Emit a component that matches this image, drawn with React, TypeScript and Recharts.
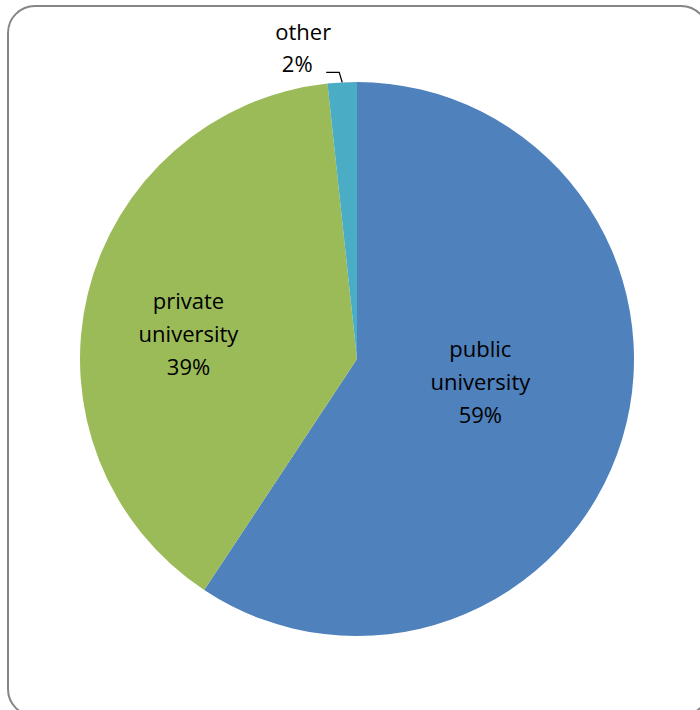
import { Cell, Pie, PieChart } from "recharts";

const categories = ["public university", "private university", "other"];
const shares = [59.3, 39.0, 1.7];
const percentLabels = ["59%", "39%", "2%"];
const colors = ["#4F81BD", "#9BBB59", "#4BACC6"];

const data = categories.map((name, i) => ({ name, value: shares[i], pct: percentLabels[i] }));

const RAD = Math.PI / 180;
const FONT = "'Open Sans', sans-serif";
const FS = 22;

function renderLabel(props: any) {
  const { cx, cy, midAngle, outerRadius, index } = props;
  const entry = data[index];
  const cos = Math.cos(-midAngle * RAD);
  const sin = Math.sin(-midAngle * RAD);

  if (index === 2) {
    // outside label with leader line
    const ex = cx + outerRadius * cos;
    const ey = cy + outerRadius * sin;
    const kx = ex - 3;
    const ky = ey - 10;
    const lx = kx - 13;
    return (
      <g>
        <polyline
          points={`${ex},${ey} ${kx},${ky} ${lx},${ky}`}
          fill="none"
          stroke="#000"
          strokeWidth={1.3}
        />
        <text x={lx - 23} y={ky - 32} textAnchor="middle" fontFamily={FONT} fontSize={FS} fill="#000">
          <tspan x={lx - 23} dy={0}>other</tspan>
          <tspan x={lx - 29} dy={32}>{entry.pct}</tspan>
        </text>
      </g>
    );
  }

  const frac = index === 0 ? 0.45 : 0.6;
  const dx = index === 0 ? 4 : -7;
  const shift = index === 0 ? -12 : 15;
  const x = cx + outerRadius * frac * cos + dx;
  const y = cy + outerRadius * frac * sin + shift;
  const words = entry.name.split(" ");
  return (
    <text x={x} y={y - 26} textAnchor="middle" fontFamily={FONT} fontSize={FS} fill="#000">
      <tspan x={x} dy={0}>{words[0]}</tspan>
      <tspan x={x} dy={33}>{words[1]}</tspan>
      <tspan x={x} dy={33}>{entry.pct}</tspan>
    </text>
  );
}

export default function App() {
  return (
    <div style={{ position: "absolute", left: 0, top: 0, width: 700, height: 710, background: "#fff" }}>
      <div
        style={{
          position: "absolute",
          left: 7,
          top: 5,
          width: 702,
          height: 712,
          border: "2px solid #868686",
          borderRadius: 28,
          boxSizing: "border-box",
        }}
      />
      <PieChart width={700} height={710} style={{ position: "absolute", left: 0, top: 0 }}>
        <Pie
          data={data}
          dataKey="value"
          nameKey="name"
          cx={352}
          cy={354}
          outerRadius={277}
          startAngle={90}
          endAngle={-270}
          stroke="none"
          label={renderLabel}
          labelLine={false}
          isAnimationActive={false}
        >
          {data.map((d, i) => (
            <Cell key={d.name} fill={colors[i]} />
          ))}
        </Pie>
      </PieChart>
    </div>
  );
}
